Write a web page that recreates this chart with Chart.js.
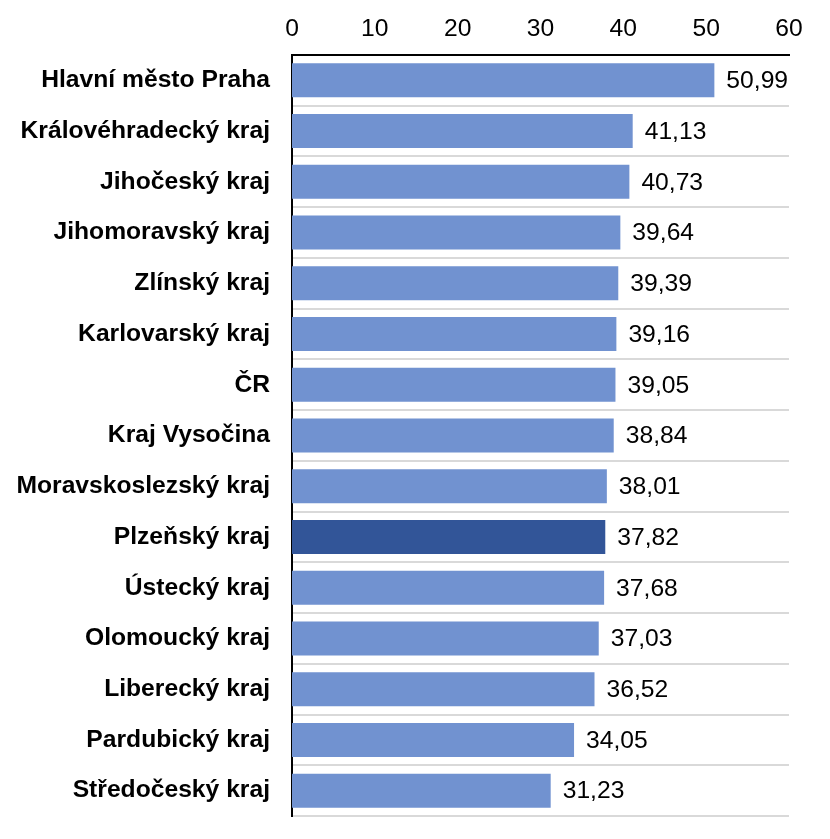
<!DOCTYPE html>
<html>
<head>
<meta charset="utf-8">
<script src="https://cdn.jsdelivr.net/npm/chart.js@4/dist/chart.umd.min.js"></script>
<style>
  html, body { margin: 0; padding: 0; background: #fff; }
  #wrap { width: 830px; height: 839px; }
</style>
</head>
<body>
<div id="wrap"><canvas id="c"></canvas></div>
<script>
// regions, sorted by value
var regions = [
  "Hlavní město Praha",
  "Královéhradecký kraj",
  "Jihočeský kraj",
  "Jihomoravský kraj",
  "Zlínský kraj",
  "Karlovarský kraj",
  "ČR",
  "Kraj Vysočina",
  "Moravskoslezský kraj",
  "Plzeňský kraj",
  "Ústecký kraj",
  "Olomoucký kraj",
  "Liberecký kraj",
  "Pardubický kraj",
  "Středočeský kraj"
];
var values = [50.99, 41.13, 40.73, 39.64, 39.39, 39.16, 39.05, 38.84, 38.01, 37.82, 37.68, 37.03, 36.52, 34.05, 31.23];
var highlight = "Plzeňský kraj";
var xTicks = [0, 10, 20, 30, 40, 50, 60];

var FONT = "'Liberation Sans', Arial, sans-serif";
var SIZE = 24.67; // 18.5pt

// value labels to the right of each bar, decimal comma
var barLabels = {
  id: "barLabels",
  afterDatasetsDraw: function (chart) {
    var ctx = chart.ctx;
    var meta = chart.getDatasetMeta(0);
    ctx.save();
    ctx.font = SIZE + "px " + FONT;
    ctx.fillStyle = "#000";
    ctx.textAlign = "left";
    ctx.textBaseline = "middle";
    meta.data.forEach(function (bar, i) {
      var txt = values[i].toFixed(2).replace(".", ",");
      ctx.fillText(txt, bar.x + 12, bar.y + 1);
    });
    ctx.restore();
  }
};

var colors = regions.map(function (r) {
  return r === highlight ? "#325598" : "#7192D0";
});

new Chart(document.getElementById("c"), {
  type: "bar",
  data: {
    labels: regions,
    datasets: [{
      data: values,
      backgroundColor: colors,
      borderWidth: 0,
      categoryPercentage: 0.67,
      barPercentage: 1.0
    }]
  },
  options: {
    indexAxis: "y",
    responsive: true,
    maintainAspectRatio: false,
    animation: false,
    layout: { padding: { left: 0, right: 41, top: 0, bottom: 23 } },
    plugins: { legend: { display: false }, tooltip: { enabled: false } },
    scales: {
      x: {
        position: "top",
        min: 0,
        max: 60,
        afterBuildTicks: function (axis) {
          axis.ticks = xTicks.map(function (v) { return { value: v }; });
        },
        afterFit: function (axis) { axis.height = 55; },
        grid: { display: false, drawTicks: false },
        border: { display: true, color: "#000", width: 2 },
        ticks: {
          color: "#000",
          font: { family: FONT, size: SIZE },
          padding: 11,
          maxRotation: 0
        }
      },
      y: {
        afterFit: function (axis) {
          axis.width = 292;
          // keep label overhang from pushing the plot area up/down
          axis.paddingTop = 0;
          axis.paddingBottom = 0;
        },
        grid: { display: true, color: "#d9d9d9", lineWidth: 2, drawTicks: false, offset: true },
        border: { display: true, color: "#000", width: 2 },
        ticks: {
          color: "#000",
          font: { family: FONT, size: SIZE, weight: "bold" },
          padding: 22,
          autoSkip: false
        }
      }
    }
  },
  plugins: [barLabels]
});
</script>
</body>
</html>
